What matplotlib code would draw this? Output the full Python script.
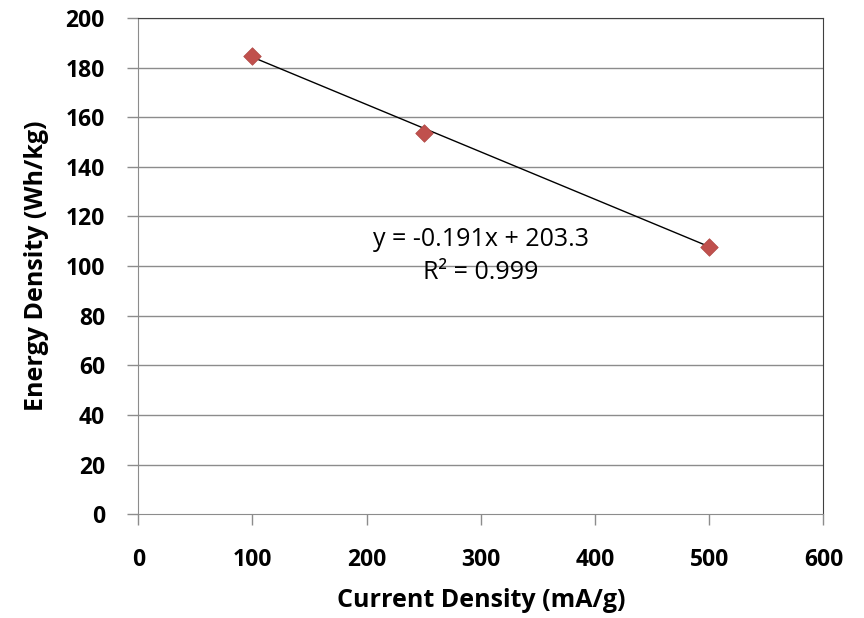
import matplotlib.pyplot as plt
import numpy as np

plt.rcParams["font.family"] = ["Open Sans", "DejaVu Sans"]

current_density = [100, 250, 500]
energy_density = [184.5, 153.5, 107.5]
slope, intercept = -0.191, 203.3
x_ticks = [0, 100, 200, 300, 400, 500, 600]
y_ticks = [0, 20, 40, 60, 80, 100, 120, 140, 160, 180, 200]

fig = plt.figure(figsize=(8.64, 6.18), dpi=100)
ax = fig.add_axes([0.160, 0.168, 0.793, 0.803])

for yv in y_ticks[1:]:
    ax.axhline(yv, color="#8c8c8c", lw=1.0, zorder=1)

# linear trendline over the data range
xs = np.array([current_density[0], current_density[-1]])
ax.plot(xs, slope * xs + intercept, color="black", lw=1.0, zorder=2)
ax.scatter(current_density, energy_density, marker="D", s=80,
           color="#C0504D", edgecolor="#B04844", lw=0.5, zorder=3)

ax.text(300, 110.5, "y = -0.191x + 203.3", ha="center", va="center",
        fontsize=18)
ax.text(300, 97.5, "R² = 0.999", ha="center", va="center", fontsize=18)

ax.set_xlim(0, 600)
ax.set_ylim(0, 200)
ax.set_xticks(x_ticks)
ax.set_yticks(y_ticks)
ax.tick_params(direction="out", length=8, width=1, color="#8c8c8c",
               labelsize=16.5)
ax.tick_params(axis="x", pad=16)
ax.tick_params(axis="y", pad=16)
for lab in ax.get_xticklabels() + ax.get_yticklabels():
    lab.set_fontweight("bold")

for side in ["left", "bottom"]:
    ax.spines[side].set_color("#8c8c8c")
ax.spines["top"].set_color("#404040")
ax.spines["right"].set_color("#404040")

ax.set_xlabel("Current Density (mA/g)", fontsize=18, fontweight="bold",
              labelpad=12)
ax.set_ylabel("Energy Density (Wh/kg)", fontsize=18, fontweight="bold",
              labelpad=12)

fig.savefig("out.png", dpi=100)
